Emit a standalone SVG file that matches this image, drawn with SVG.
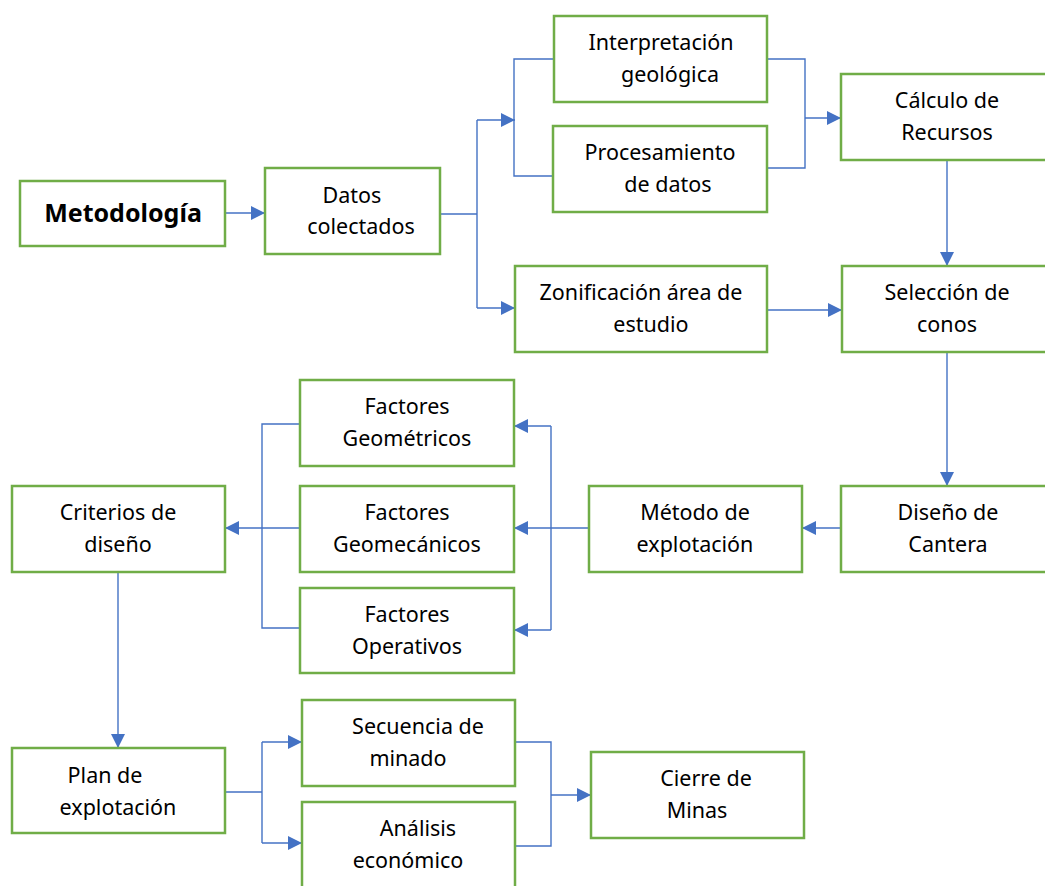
<svg xmlns="http://www.w3.org/2000/svg" width="1045" height="886" viewBox="0 0 1045 886">
<defs>
<style>
.box{fill:#fff;stroke:#70AD47;stroke-width:2.5}
.t{font-family:"Noto Sans","DejaVu Sans",sans-serif;font-size:21.5px;fill:#000;text-anchor:middle}
.b{font-weight:bold;font-size:25px}
.c{fill:none;stroke:#4472C4;stroke-width:1.4}
.a{fill:none;stroke:#4472C4;stroke-width:1.4;marker-end:url(#arr)}
</style>
<marker id="arr" viewBox="0 0 14 14" refX="14" refY="7" markerWidth="14" markerHeight="14" markerUnits="userSpaceOnUse" orient="auto">
<path d="M0,0 L14,7 L0,14 Z" fill="#4472C4"/>
</marker>
</defs>
<rect width="1045" height="886" fill="#fff"/>
<g id="connectors">
<path class="a" d="M225,213 H265"/>
<path class="c" d="M440,214 H477 M477,120 V308"/>
<path class="a" d="M477,120 H515"/>
<path class="a" d="M477,308 H515"/>
<path class="c" d="M554,59 H514 V176 H553"/>
<path class="c" d="M767,59 H805 V168 H767"/>
<path class="a" d="M805,118 H841"/>
<path class="a" d="M947,160 V266"/>
<path class="a" d="M767,310 H842"/>
<path class="a" d="M947,352 V486"/>
<path class="a" d="M841,528 H802"/>
<path class="a" d="M589,528 H514"/>
<path class="c" d="M551,528 V426 M551,528 V630"/>
<path class="a" d="M551,426 H514"/>
<path class="a" d="M551,630 H514"/>
<path class="c" d="M300,424 H262 V628 H300"/>
<path class="a" d="M300,528 H225"/>
<path class="a" d="M118,572 V748"/>
<path class="c" d="M225,792 H262 M262,742 V843"/>
<path class="a" d="M262,742 H302"/>
<path class="a" d="M262,843 H302"/>
<path class="c" d="M515,742 H551 V846 H515"/>
<path class="a" d="M551,795 H591"/>
</g>
<g id="metodologia"><rect class="box" x="20" y="181" width="205" height="65"/><text class="t b" x="123" y="222">Metodología</text></g>
<g id="datos"><rect class="box" x="265" y="168" width="175" height="86"/><text class="t" x="352" y="203">Datos</text><text class="t" x="361" y="234">colectados</text></g>
<g id="interpretacion"><rect class="box" x="554" y="16" width="213" height="86"/><text class="t" x="661" y="50">Interpretación</text><text class="t" x="670" y="82">geológica</text></g>
<g id="procesamiento"><rect class="box" x="553" y="126" width="214" height="86"/><text class="t" x="660" y="160">Procesamiento</text><text class="t" x="668" y="192">de datos</text></g>
<g id="calculo"><rect class="box" x="841" y="74" width="210" height="86"/><text class="t" x="947" y="108">Cálculo de</text><text class="t" x="947" y="140">Recursos</text></g>
<g id="zonificacion"><rect class="box" x="515" y="266" width="252" height="86"/><text class="t" x="641" y="300">Zonificación área de</text><text class="t" x="651" y="332">estudio</text></g>
<g id="seleccion"><rect class="box" x="842" y="266" width="210" height="86"/><text class="t" x="947" y="300">Selección de</text><text class="t" x="947" y="332">conos</text></g>
<g id="diseno-cantera"><rect class="box" x="841" y="486" width="210" height="86"/><text class="t" x="948" y="520">Diseño de</text><text class="t" x="948" y="552">Cantera</text></g>
<g id="metodo"><rect class="box" x="589" y="486" width="213" height="86"/><text class="t" x="695" y="520">Método de</text><text class="t" x="695" y="552">explotación</text></g>
<g id="geometricos"><rect class="box" x="300" y="380" width="214" height="86"/><text class="t" x="407" y="414">Factores</text><text class="t" x="407" y="446">Geométricos</text></g>
<g id="geomecanicos"><rect class="box" x="300" y="486" width="214" height="86"/><text class="t" x="407" y="520">Factores</text><text class="t" x="407" y="552">Geomecánicos</text></g>
<g id="operativos"><rect class="box" x="300" y="588" width="214" height="85"/><text class="t" x="407" y="622">Factores</text><text class="t" x="407" y="654">Operativos</text></g>
<g id="criterios"><rect class="box" x="12" y="486" width="213" height="86"/><text class="t" x="118" y="520">Criterios de</text><text class="t" x="118" y="552">diseño</text></g>
<g id="plan"><rect class="box" x="12" y="748" width="213" height="85"/><text class="t" x="105" y="783">Plan de</text><text class="t" x="118" y="815">explotación</text></g>
<g id="secuencia"><rect class="box" x="302" y="700" width="213" height="86"/><text class="t" x="418" y="734">Secuencia de</text><text class="t" x="408" y="766">minado</text></g>
<g id="analisis"><rect class="box" x="302" y="802" width="213" height="90"/><text class="t" x="418" y="836">Análisis</text><text class="t" x="408" y="868">económico</text></g>
<g id="cierre"><rect class="box" x="591" y="752" width="213" height="86"/><text class="t" x="706" y="786">Cierre de</text><text class="t" x="697" y="818">Minas</text></g>
</svg>
